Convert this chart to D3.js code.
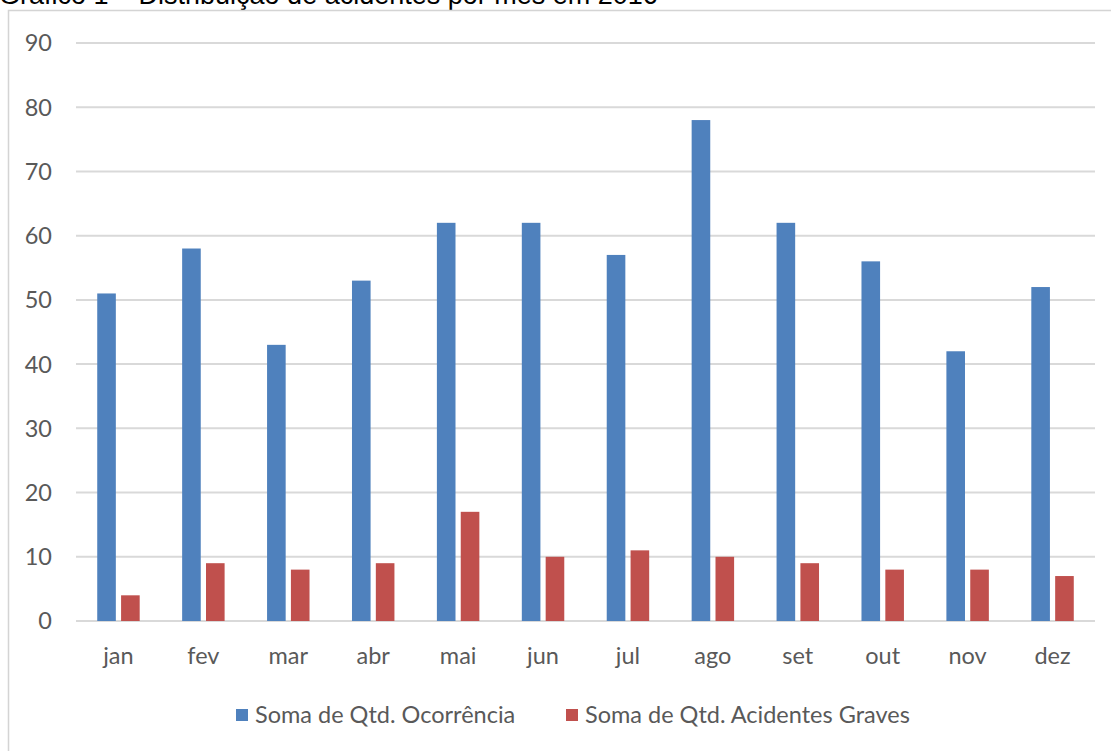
<!DOCTYPE html>
<html>
<head>
<meta charset="utf-8">
<script src="https://cdn.jsdelivr.net/npm/d3@7/dist/d3.min.js"></script>
<style>
  html, body { margin: 0; padding: 0; background: #fff; }
  svg { display: block; }
</style>
</head>
<body>
<svg id="chart" width="1111" height="751"></svg>
<script>
// Monthly accident counts, 2016
const months = ["jan", "fev", "mar", "abr", "mai", "jun", "jul", "ago", "set", "out", "nov", "dez"];
const ocorrencias = [51, 58, 43, 53, 62, 62, 57, 78, 62, 56, 42, 52];
const acidentesGraves = [4, 9, 8, 9, 17, 10, 11, 10, 9, 8, 8, 7];
const seriesNames = ["Soma de Qtd. Ocorrência", "Soma de Qtd. Acidentes Graves"];
const seriesColors = ["#4F81BD", "#C0504D"];
const yTicks = [0, 10, 20, 30, 40, 50, 60, 70, 80, 90];
const title = "Gráfico 1 – Distribuição de acidentes por mês em 2016";

const svg = d3.select("#chart");
const labelFont = "Lato, 'Open Sans', sans-serif";
const textColor = "#595959";
const gridColor = "#D9D9D9";

// Caption above the chart box (its upper part runs off the page top)
svg.append("text")
  .attr("x", -1)
  .attr("y", 4)
  .attr("font-family", "'Liberation Sans', Arial, sans-serif")
  .attr("font-size", 27)
  .attr("fill", "#000")
  .text(title);

// Chart area border
svg.append("rect")
  .attr("x", 8.5).attr("y", 10.5)
  .attr("width", 1200).attr("height", 800)
  .attr("fill", "none")
  .attr("stroke", "#D4D4D4")
  .attr("stroke-width", 1.5);

const plot = { left: 76, right: 1095, top: 43, bottom: 621 };

const y = d3.scaleLinear().domain([0, 90]).range([plot.bottom, plot.top]);
const x0 = d3.scaleBand().domain(months).range([plot.left, plot.right]).paddingInner(0.5).paddingOuter(0.25);
const x1 = d3.scaleBand().domain([0, 1]).range([0, x0.bandwidth()]).paddingInner(0.22);

// Horizontal gridlines
svg.append("g")
  .selectAll("line")
  .data(yTicks)
  .join("line")
  .attr("x1", plot.left).attr("x2", plot.right)
  .attr("y1", d => y(d)).attr("y2", d => y(d))
  .attr("stroke", gridColor)
  .attr("stroke-width", 2);

// Y tick labels
svg.append("g")
  .selectAll("text")
  .data(yTicks)
  .join("text")
  .attr("x", 52)
  .attr("y", d => y(d))
  .attr("dy", "0.36em")
  .attr("text-anchor", "end")
  .attr("font-family", labelFont)
  .attr("font-size", 23.5)
  .attr("fill", textColor)
  .text(d => d);

// Bars
const series = [ocorrencias, acidentesGraves];
const groups = svg.append("g")
  .selectAll("g")
  .data(months)
  .join("g")
  .attr("transform", d => `translate(${x0(d)},0)`);

groups.selectAll("rect")
  .data((m, i) => series.map((s, k) => ({ k, v: s[i] })))
  .join("rect")
  .attr("x", d => x1(d.k))
  .attr("width", x1.bandwidth())
  .attr("y", d => y(d.v))
  .attr("height", d => y(0) - y(d.v))
  .attr("fill", d => seriesColors[d.k]);

// X category labels
svg.append("g")
  .selectAll("text")
  .data(months)
  .join("text")
  .attr("x", d => x0(d) + x0.bandwidth() / 2)
  .attr("y", 664)
  .attr("text-anchor", "middle")
  .attr("font-family", labelFont)
  .attr("font-size", 23.5)
  .attr("fill", textColor)
  .text(d => d);

// Legend
const legend = svg.append("g");
const legendItems = [
  { name: seriesNames[0], color: seriesColors[0], x: 236 },
  { name: seriesNames[1], color: seriesColors[1], x: 566 }
];
legendItems.forEach(item => {
  legend.append("rect")
    .attr("x", item.x).attr("y", 709)
    .attr("width", 12).attr("height", 12)
    .attr("fill", item.color);
  legend.append("text")
    .attr("x", item.x + 19).attr("y", 723)
    .attr("font-family", labelFont)
    .attr("font-size", 23.5)
    .attr("fill", textColor)
    .text(item.name);
});
</script>
</body>
</html>
